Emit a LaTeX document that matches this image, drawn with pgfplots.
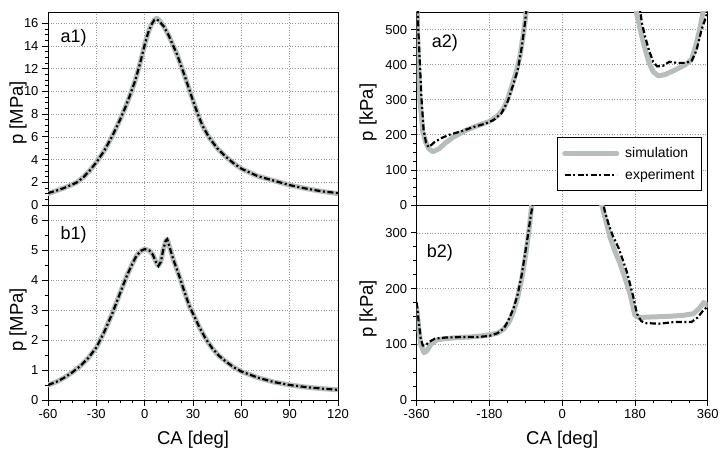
\documentclass[border=0pt]{standalone}
\usepackage{fontspec}
\setmainfont{Liberation Sans}
\usepackage{pgfplots}
\pgfplotsset{compat=1.18}
\definecolor{simgray}{RGB}{182,190,188}
\tikzset{plab/.style={anchor=west, font=\fontsize{18}{18}\selectfont}}
\begin{document}
\begin{tikzpicture}[x=1pt,y=1pt]
\pgfplotsset{
  base/.style={
    scale only axis, anchor=south west,
    /pgf/number format/assume math mode=true,
    tick label style={font=\fontsize{13}{13}\selectfont},
    label style={font=\fontsize{18.5}{18.5}\selectfont},
    tick align=outside, xtick pos=bottom, ytick pos=left,
    major tick length=6pt, minor tick length=3.5pt,
    tick style={black, line width=0.8pt},
    grid=major,
    major grid style={black!40, line width=0.7pt, dash pattern=on 1pt off 1.6pt},
    axis line style={line width=0.8pt},
  },
  sim/.style={simgray, line width=5pt, line join=round, line cap=round},
  exp/.style={black, line width=2.2pt, dash pattern=on 6pt off 2.5pt on 2pt off 2.5pt},
}
% ---------------- a1 ----------------
\begin{axis}[base, at={(48pt,247pt)}, width=290pt, height=193pt,
  xmin=-60, xmax=120, ymin=0, ymax=17,
  xtick={-60,-30,...,120}, xticklabels={}, xtick style={draw=none},
  ytick={0,2,...,16}, minor y tick num=3,
  ylabel={p [MPa]}, ylabel style={at={(axis description cs:-0.103,0.477)}, anchor=center}]
\addplot[sim] coordinates {(-60,1.0) (-55,1.25) (-50,1.5) (-45,1.8) (-42,2.0) (-38,2.45) (-34,3.05) (-30,3.75) (-25,4.8) (-20,6.1) (-15,7.6) (-12,8.6) (-9,9.7) (-6,10.9) (-3,12.4) (0,14.1) (2,15.1) (4,15.85) (6,16.3) (7.5,16.45) (9,16.3) (12,15.7) (15,14.9) (20,13.3) (25,11.3) (30,9.2) (33,8.0) (36,6.95) (40,5.95) (45,5.0) (50,4.3) (55,3.7) (60,3.2) (70,2.55) (80,2.15) (90,1.75) (100,1.45) (110,1.2) (120,1.0)};
\addplot[exp] coordinates {(-60,1.05) (-55,1.25) (-50,1.5) (-45,1.8) (-42,2.0) (-38,2.45) (-34,3.05) (-30,3.75) (-25,4.8) (-20,6.1) (-15,7.6) (-12,8.6) (-9,9.7) (-6,10.9) (-3,12.4) (0,14.1) (2,15.1) (4,15.85) (6,16.3) (7.5,16.35) (9,16.2) (12,15.7) (15,14.9) (20,13.3) (25,11.3) (30,9.2) (33,8.0) (36,6.95) (40,5.95) (45,5.0) (50,4.3) (55,3.7) (60,3.2) (70,2.55) (80,2.15) (90,1.75) (100,1.45) (110,1.2) (120,1.05)};
\node[plab] at (rel axis cs:0.031,0.865) {a1)};
\end{axis}
% ---------------- b1 ----------------
\begin{axis}[base, at={(48pt,52pt)}, width=290pt, height=195pt,
  xmin=-60, xmax=120, ymin=0, ymax=6.5,
  xtick={-60,-30,...,120}, minor x tick num=3,
  ytick={0,1,...,6}, minor y tick num=1,
  xlabel={CA [deg]}, xlabel style={at={(axis description cs:0.5,-0.205)}, anchor=center},
  ylabel={p [MPa]}, ylabel style={at={(axis description cs:-0.103,0.41)}, anchor=center}]
\addplot[sim] coordinates {(-60,0.5) (-55,0.6) (-50,0.74) (-45,0.92) (-40,1.13) (-35,1.4) (-30,1.75) (-25,2.28) (-20,2.9) (-15,3.6) (-11,4.15) (-8,4.5) (-5,4.82) (-2,4.98) (0,5.03) (3,4.98) (5,4.85) (7,4.6) (8.5,4.47) (10,4.6) (11.5,5.0) (13,5.3) (14,5.36) (16,5.0) (18,4.65) (20,4.35) (22,4.05) (24,3.72) (26,3.4) (28,3.1) (30,2.88) (34,2.42) (38,2.03) (42,1.72) (46,1.48) (50,1.3) (55,1.1) (60,0.95) (70,0.75) (80,0.6) (90,0.5) (100,0.43) (110,0.38) (120,0.34)};
\addplot[exp] coordinates {(-60,0.5) (-55,0.6) (-50,0.74) (-45,0.92) (-40,1.13) (-35,1.4) (-30,1.75) (-25,2.28) (-20,2.9) (-15,3.6) (-11,4.15) (-8,4.5) (-5,4.82) (-2,4.98) (0,5.03) (3,4.98) (5,4.85) (7,4.6) (8.5,4.47) (10,4.6) (11.5,5.0) (13,5.3) (14,5.36) (16,5.0) (18,4.65) (20,4.35) (22,4.05) (24,3.72) (26,3.4) (28,3.1) (30,2.88) (34,2.42) (38,2.03) (42,1.72) (46,1.48) (50,1.3) (55,1.1) (60,0.95) (70,0.75) (80,0.6) (90,0.5) (100,0.43) (110,0.38) (120,0.34)};
\node[plab] at (rel axis cs:0.031,0.846) {b1)};
\end{axis}
% ---------------- a2 ----------------
\begin{axis}[base, at={(416.7pt,247pt)}, width=291pt, height=193pt,
  xmin=-360, xmax=360, ymin=0, ymax=550,
  xtick={-360,-180,...,360}, xticklabels={}, xtick style={draw=none},
  ytick={0,100,...,500}, minor y tick num=3,
  ylabel={p [kPa]}, ylabel style={at={(axis description cs:-0.167,0.48)}, anchor=center},
  legend style={at={(axis description cs:0.98,0.352)}, anchor=north east, draw=black,
    line width=0.8pt, font=\fontsize{14}{14}\selectfont, inner xsep=5pt, inner ysep=8pt,
    row sep=6pt},
  legend cell align=left,
  legend image code/.code={\draw[#1] (0pt,0pt) -- (52pt,0pt); \path (56pt,0pt);}]
\addplot[sim] coordinates {(-360,620) (-357,450) (-352,300) (-345,210) (-338,180) (-330,160) (-320,152) (-305,160) (-290,176) (-270,193) (-240,212) (-210,226) (-180,238) (-160,254) (-145,275) (-135,302) (-125,338) (-115,375) (-105,420) (-97,480) (-90,540) (-85,600)};
\addlegendentry{simulation}
\addplot[exp] coordinates {(-359,600) (-356,500) (-352,400) (-348,300) (-343,215) (-337,178) (-331,165) (-325,170) (-315,180) (-300,190) (-280,200) (-250,210) (-220,222) (-190,232) (-170,242) (-150,262) (-135,295) (-122,340) (-110,385) (-100,450) (-92,520) (-87,570)};
\addlegendentry{experiment}
\addplot[sim, forget plot] coordinates {(178,620) (185,540) (195,490) (205,445) (215,405) (225,380) (238,368) (255,372) (280,385) (305,400) (320,415) (332,460) (342,510) (350,560)};
\addplot[exp, forget plot] coordinates {(190,580) (197,520) (205,480) (215,440) (225,408) (235,395) (250,397) (265,408) (285,405) (305,405) (320,410) (332,440) (345,500) (357,540) (362,560)};
\node[plab] at (rel axis cs:0.04,0.84) {a2)};
\end{axis}
% ---------------- b2 ----------------
\begin{axis}[base, at={(416.7pt,52pt)}, width=291pt, height=195pt,
  xmin=-360, xmax=360, ymin=0, ymax=350,
  xtick={-360,-180,...,360}, minor x tick num=3,
  ytick={0,100,...,300}, minor y tick num=3,
  xlabel={CA [deg]}, xlabel style={at={(axis description cs:0.5,-0.205)}, anchor=center},
  ylabel={p [kPa]}, ylabel style={at={(axis description cs:-0.167,0.467)}, anchor=center}]
\addplot[sim] coordinates {(-360,165) (-355,130) (-350,100) (-342,85) (-335,88) (-325,100) (-310,108) (-290,110) (-260,112) (-230,113) (-200,115) (-180,117) (-160,120) (-145,127) (-130,142) (-120,160) (-110,185) (-100,218) (-90,262) (-82,305) (-75,352) (-72,370)};
\addplot[exp] coordinates {(-360,175) (-355,140) (-350,110) (-345,98) (-338,98) (-330,104) (-315,110) (-290,112) (-250,113) (-210,113) (-180,115) (-160,120) (-145,128) (-135,140) (-120,165) (-110,190) (-100,225) (-92,262) (-85,295) (-78,330) (-72,355) (-70,370)};
\addplot[sim] coordinates {(94,370) (96,355) (105,330) (118,293) (130,268) (143,245) (155,220) (168,190) (180,152) (190,148) (220,149) (260,150) (300,152) (325,155) (340,165) (350,175) (360,170)};
\addplot[exp] coordinates {(98,370) (100,360) (105,340) (115,315) (125,295) (140,272) (160,230) (175,188) (185,155) (195,142) (205,138) (240,137) (280,140) (320,140) (335,148) (348,160) (360,168)};
\node[plab] at (rel axis cs:0.023,0.756) {b2)};
\end{axis}
\pgfresetboundingbox
\path[use as bounding box] (0,0) rectangle (720,452);
\end{tikzpicture}
\end{document}
